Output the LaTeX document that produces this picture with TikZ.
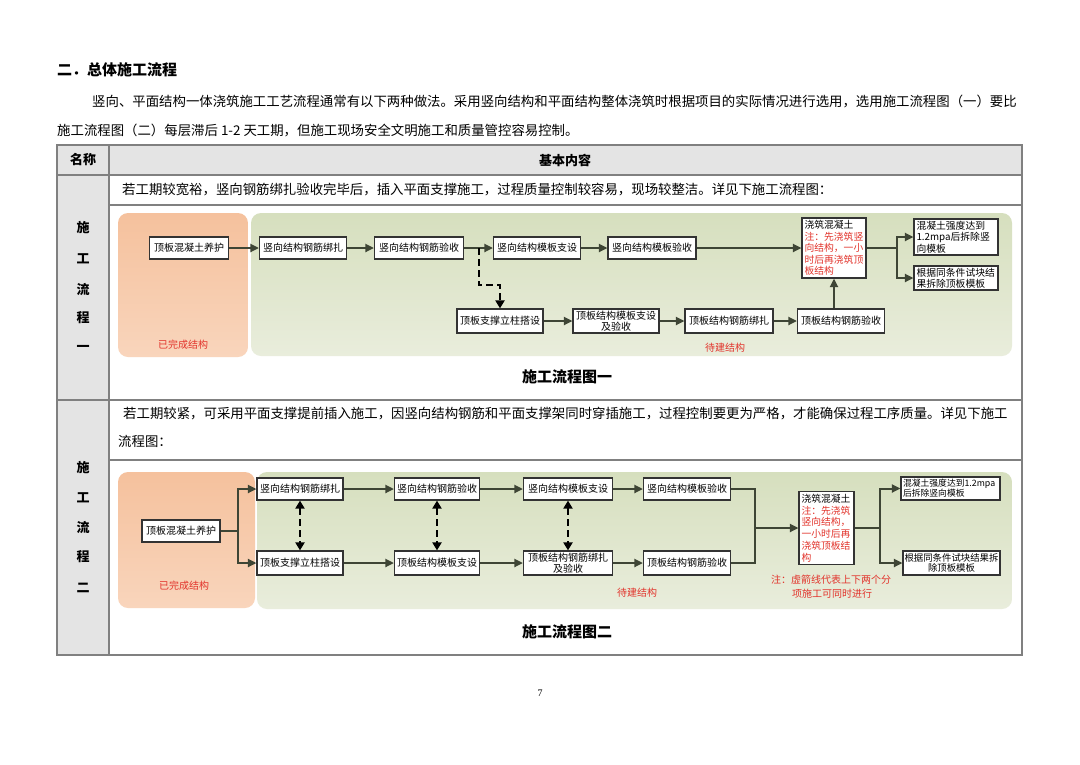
\documentclass[tikz,border=0pt]{standalone}
\usepackage{fontspec}
\setmainfont{Noto Sans CJK SC}
\newfontfamily\seriffont{Liberation Serif}
\usetikzlibrary{arrows.meta}
\definecolor{nred}{HTML}{E2332B}
\definecolor{boxc}{HTML}{333333}
\definecolor{arrc}{HTML}{3E4535}
\definecolor{tabc}{HTML}{808080}
\definecolor{cellg}{HTML}{E4E4E4}
\definecolor{orgtop}{HTML}{F5C19D}
\definecolor{orgbot}{HTML}{F9D5BC}
\definecolor{grntop}{HTML}{D6DFBE}
\definecolor{grnbot}{HTML}{E9EDDC}
\begin{document}
\begin{tikzpicture}[x=1pt,y=-1pt,
  box/.style={draw=boxc, line width=1.2pt, fill=white, inner sep=0pt, minimum height=22pt, align=center, font=\fontsize{10}{10.8}\selectfont},
  lbox/.style={box, align=left, inner xsep=2.5pt},
  arr/.style={draw=arrc, line width=2pt, -{Triangle[length=8.5pt,width=8pt]}},
  ln/.style={draw=arrc, line width=2pt},
  dsh/.style={draw=black, line width=2.8pt, dash pattern=on 7pt off 4pt, -{Triangle[length=8pt,width=9pt]}},
  dsh2/.style={dsh, {Triangle[length=8pt,width=9pt]}-{Triangle[length=8pt,width=9pt]}},
  txt/.style={inner sep=0pt, font=\fontsize{13.4}{14}\selectfont},
  vlab/.style={inner sep=0pt, font=\fontsize{13}{14}\selectfont\bfseries},
  redl/.style={inner sep=0pt, text=nred, font=\fontsize{10}{11}\selectfont},
  captxt/.style={inner sep=0pt, font=\fontsize{15}{16}\selectfont\bfseries}]
\useasboundingbox (0,0) rectangle (1080,764);
\fill[white] (0,0) rectangle (1080,764);

% heading and paragraph
\node[inner sep=0pt, anchor=west, font=\fontsize{15}{16}\selectfont\bfseries] (title) at (57,70) {二．总体施工流程};
\node[txt, anchor=west] (p1) at (92,101) {竖向、平面结构一体浇筑施工工艺流程通常有以下两种做法。采用竖向结构和平面结构整体浇筑时根据项目的实际情况进行选用，选用施工流程图（一）要比};
\node[txt, anchor=west] (p2) at (57,130) {施工流程图（二）每层滞后 1-2 天工期，但施工现场安全文明施工和质量管控容易控制。};

% table
\fill[cellg] (57,145) rectangle (1022,175);
\fill[cellg] (57,175) rectangle (109,655);
\draw[tabc, line width=1.2pt] (57,145) rectangle (1022,655);
\draw[tabc, line width=1.2pt] (57,175) -- (1022,175);
\draw[tabc, line width=1.2pt] (57,400) -- (1022,400);
\draw[tabc, line width=1.2pt] (109,205) -- (1022,205);
\draw[tabc, line width=1.2pt] (109,460) -- (1022,460);
\draw[tabc, line width=1.2pt] (109,145) -- (109,655);
\node[vlab] (h1) at (83,160) {名称};
\node[vlab] (h2) at (565,160) {基本内容};

\node[vlab] (l1a) at (83,228) {施};
\node[vlab] (l1b) at (83,259) {工};
\node[vlab] (l1c) at (83,289) {流};
\node[vlab] (l1d) at (83,318) {程};
\node[vlab] (l1e) at (83,348) {一};
\node[vlab] (l2a) at (83,468) {施};
\node[vlab] (l2b) at (83,498) {工};
\node[vlab] (l2c) at (83,527) {流};
\node[vlab] (l2d) at (83,557) {程};
\node[vlab] (l2e) at (83,588) {二};

\node[txt, anchor=west] (r1) at (122,190) {若工期较宽裕，竖向钢筋绑扎验收完毕后，插入平面支撑施工，过程质量控制较容易，现场较整洁。详见下施工流程图：};
\node[txt, anchor=west] (r2a) at (123,414) {若工期较紧，可采用平面支撑提前插入施工，因竖向结构钢筋和平面支撑架同时穿插施工，过程控制要更为严格，才能确保过程工序质量。详见下施工};
\node[txt, anchor=west] (r2b) at (118,441) {流程图：};

% ================= flowchart 1 =================
\shade[top color=orgtop, bottom color=orgbot, rounded corners=10pt] (118,213) rectangle (248,357);
\shade[top color=grntop, bottom color=grnbot, rounded corners=10pt] (251,213) rectangle (1012,356);
\node[redl] (done1) at (183,345) {已完成结构};
\node[redl] (todo1) at (725,348) {待建结构};

\node[box, minimum width=79pt] (B1) at (189,248) {顶板混凝土养护};
\node[box, minimum width=87pt] (B2) at (303,248) {竖向结构钢筋绑扎};
\node[box, minimum width=89pt] (B3) at (419,248) {竖向结构钢筋验收};
\node[box, minimum width=87pt] (B4) at (537,248) {竖向结构模板支设};
\node[box, minimum width=88pt] (B5) at (652,248) {竖向结构模板验收};
\node[lbox, text width=59pt, minimum height=60pt, font=\fontsize{9.8}{11.4}\selectfont] (B6) at (834,248)
  {浇筑混凝土\\\textcolor{nred}{注：先浇筑竖}\\\textcolor{nred}{向结构，一小}\\\textcolor{nred}{时后再浇筑顶}\\\textcolor{nred}{板结构}};
\node[lbox, text width=79pt, minimum height=36pt, font=\fontsize{9.8}{11.4}\selectfont] (B7) at (956,237)
  {混凝土强度达到\\1.2mpa后拆除竖\\向模板};
\node[lbox, text width=79pt, minimum height=24pt, font=\fontsize{9.8}{10.6}\selectfont] (B8) at (956,278)
  {根据同条件试块结\\果拆除顶板模板};
\node[box, minimum width=86pt, minimum height=24pt] (B9) at (500,321) {顶板支撑立柱搭设};
\node[box, minimum width=86pt, minimum height=24pt] (B10) at (616,321) {顶板结构模板支设\\及验收};
\node[box, minimum width=88pt, minimum height=24pt] (B11) at (729,321) {顶板结构钢筋绑扎};
\node[box, minimum width=87pt, minimum height=24pt] (B12) at (841,321) {顶板结构钢筋验收};

\draw[arr] (B1) -- (B2);
\draw[arr] (B2) -- (B3);
\draw[arr] (B3) -- (B4);
\draw[arr] (B4) -- (B5);
\draw[arr] (B5) -- (B6.west |- B5.east);
\coordinate (k1) at (897,248);
\draw[ln] (B6.east |- k1) -- (k1);
\draw[arr] (k1) |- (B7.west);
\draw[arr] (k1) |- (B8.west);
\draw[arr] (B9) -- (B10);
\draw[arr] (B10) -- (B11);
\draw[arr] (B11) -- (B12);
\draw[arr] (B12.north -| B6.south) -- (B6.south);
\coordinate (d1) at (479,248);
\coordinate (d2) at (479,285);
\draw[dsh] (d1) -- (d2) -| (B9.north);

\node[captxt] (cap1) at (567,377) {施工流程图一};

% ================= flowchart 2 =================
\shade[top color=orgtop, bottom color=orgbot, rounded corners=10pt] (118,472) rectangle (255,608);
\shade[top color=grntop, bottom color=grnbot, rounded corners=10pt] (257,472) rectangle (1012,609);
\node[redl] (done2) at (184,586) {已完成结构};
\node[redl] (todo2) at (637,593) {待建结构};

\node[box, minimum width=78pt] (C1) at (181,531) {顶板混凝土养护};
\node[box, minimum width=86pt] (C2) at (300,489) {竖向结构钢筋绑扎};
\node[box, minimum width=85pt] (C3) at (437,489) {竖向结构钢筋验收};
\node[box, minimum width=89pt] (C4) at (568,489) {竖向结构模板支设};
\node[box, minimum width=87pt] (C5) at (687,489) {竖向结构模板验收};
\node[box, minimum width=86pt, minimum height=24pt] (C6) at (300,563) {顶板支撑立柱搭设};
\node[box, minimum width=85pt, minimum height=24pt] (C7) at (437,563) {顶板结构模板支设};
\node[box, minimum width=89pt, minimum height=24pt] (C8) at (568,563) {顶板结构钢筋绑扎\\及验收};
\node[box, minimum width=87pt, minimum height=24pt] (C9) at (687,563) {顶板结构钢筋验收};
\node[lbox, text width=50pt, minimum height=73pt, font=\fontsize{9.8}{11.8}\selectfont] (C10) at (826.5,528)
  {浇筑混凝土\\\textcolor{nred}{注：先浇筑}\\\textcolor{nred}{竖向结构，}\\\textcolor{nred}{一小时后再}\\\textcolor{nred}{浇筑顶板结}\\\textcolor{nred}{构}};
\node[lbox, text width=95pt, inner xsep=2pt, minimum height=23pt, font=\fontsize{8.8}{10.2}\selectfont] (C11) at (950.5,488.5) {混凝土强度达到1.2mpa\\后拆除竖向模板};
\node[box, minimum width=97pt, minimum height=24pt, font=\fontsize{9.4}{10.5}\selectfont] (C12) at (951.5,563) {根据同条件试块结果拆\\除顶板模板};

\coordinate (a1) at (238,531);
\draw[ln] (C1) -- (a1);
\draw[arr] (a1) |- (C2.west);
\draw[arr] (a1) |- (C6.west);
\draw[arr] (C2) -- (C3);
\draw[arr] (C3) -- (C4);
\draw[arr] (C4) -- (C5);
\draw[arr] (C6) -- (C7);
\draw[arr] (C7) -- (C8);
\draw[arr] (C8) -- (C9);
\coordinate (j2) at (755,528);
\draw[ln] (C5.east) -| (j2) |- (C9.east);
\draw[arr] (j2) -- (C10.west);
\coordinate (k2) at (880,528);
\draw[ln] (C10.east) -- (k2);
\draw[arr] (k2) |- (C11.west);
\draw[arr] (k2) |- (C12.west);
\draw[dsh2] (C2.south) -- (C6.north);
\draw[dsh2] (C3.south) -- (C7.north);
\draw[dsh2] (C4.south) -- (C8.north);

\node[redl] (note1) at (831,580) {注：虚箭线代表上下两个分};
\node[redl] (note2) at (832,594) {项施工可同时进行};

\node[captxt] (cap2) at (567,632) {施工流程图二};

\node[inner sep=0pt, font=\seriffont\fontsize{10}{12}\selectfont] (pg) at (540,693) {7};
\end{tikzpicture}
\end{document}
